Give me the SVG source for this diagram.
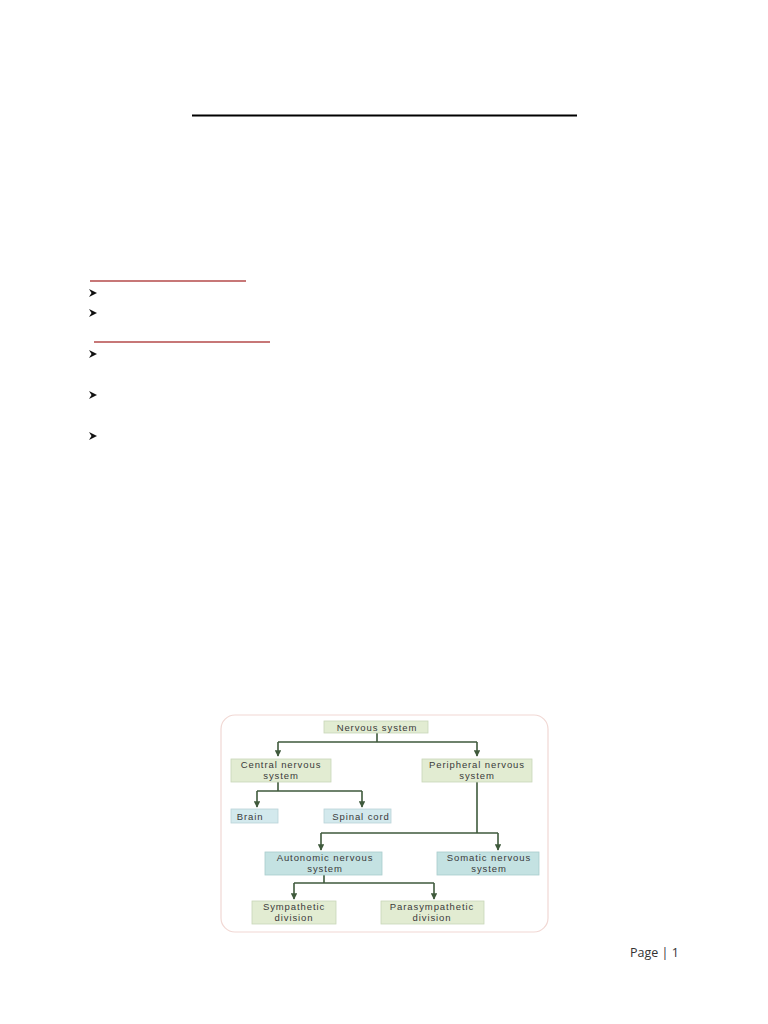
<svg xmlns="http://www.w3.org/2000/svg" width="768" height="1024" viewBox="0 0 768 1024">
<style>
.t{font-family:"Liberation Sans",Arial,sans-serif;font-size:9.5px;letter-spacing:0.9px;fill:#3a3a3a;text-anchor:middle}
.g{fill:#e2ecd2;stroke:#c9d6b8;stroke-width:0.8}
.b{fill:#d3e9ed;stroke:#b9d3d8;stroke-width:0.8}
.c{fill:#c4e2e2;stroke:#a9cccc;stroke-width:0.8}
.ln{fill:none;stroke:#3f5a3c;stroke-width:1.6}
.ul{stroke:#b54a4a;stroke-width:1.5}
</style>
<defs>
<marker id="ah" viewBox="0 0 10 10" refX="9" refY="5" markerWidth="4" markerHeight="4" orient="auto">
<path d="M0,0 L10,5 L0,10 z" fill="#3f5a3c"/>
</marker>
<symbol id="bul" viewBox="0 0 10 10">
<path d="M1,1 L9,5 L1,9 L3.5,5 z" fill="#111"/>
</symbol>
</defs>
<rect width="768" height="1024" fill="#fff"/>
<line x1="192" y1="115.5" x2="577" y2="115.5" stroke="#000" stroke-width="2"/>
<line class="ul" x1="90" y1="281" x2="246" y2="281"/>
<line class="ul" x1="94" y1="342" x2="270" y2="342"/>
<g id="bullets">
<use href="#bul" x="88" y="288" width="10" height="10"/>
<use href="#bul" x="88" y="308" width="10" height="10"/>
<use href="#bul" x="88" y="349" width="10" height="10"/>
<use href="#bul" x="88" y="390" width="10" height="10"/>
<use href="#bul" x="88" y="431" width="10" height="10"/>
</g>
<rect id="frame" x="221" y="715" width="327" height="217" rx="14" fill="#fff" stroke="#f1d8d4" stroke-width="1.2"/>
<g id="connectors">
<path class="ln" d="M377,733 V742 M278,742 H477"/>
<path class="ln" d="M278,742 V756" marker-end="url(#ah)"/>
<path class="ln" d="M477,742 V756" marker-end="url(#ah)"/>
<path class="ln" d="M278,782 V791 M257,791 H362"/>
<path class="ln" d="M257,791 V807" marker-end="url(#ah)"/>
<path class="ln" d="M362,791 V807" marker-end="url(#ah)"/>
<path class="ln" d="M477,782 V833 M321,833 H498"/>
<path class="ln" d="M321,833 V850" marker-end="url(#ah)"/>
<path class="ln" d="M498,833 V850" marker-end="url(#ah)"/>
<path class="ln" d="M324,875 V883 M294,883 H434"/>
<path class="ln" d="M294,883 V899" marker-end="url(#ah)"/>
<path class="ln" d="M434,883 V899" marker-end="url(#ah)"/>
</g>
<g id="nervous"><rect class="g" x="324" y="721" width="104" height="12"/><text class="t" x="377" y="730.5">Nervous system</text></g>
<g id="cns"><rect class="g" x="231" y="759" width="100" height="23"/><text class="t" x="281" y="768">Central nervous</text><text class="t" x="281" y="778.5">system</text></g>
<g id="pns"><rect class="g" x="422" y="759" width="110" height="23"/><text class="t" x="477" y="768">Peripheral nervous</text><text class="t" x="477" y="778.5">system</text></g>
<g id="brain"><rect class="b" x="231" y="809" width="47" height="14"/><text class="t" x="250" y="819.5">Brain</text></g>
<g id="spinal"><rect class="b" x="324" y="809" width="67" height="14"/><text class="t" x="361" y="819.5">Spinal cord</text></g>
<g id="autonomic"><rect class="c" x="265" y="852" width="117" height="23"/><text class="t" x="325" y="861">Autonomic nervous</text><text class="t" x="325" y="871.5">system</text></g>
<g id="somatic"><rect class="c" x="437" y="852" width="102" height="23"/><text class="t" x="489" y="861">Somatic nervous</text><text class="t" x="489" y="871.5">system</text></g>
<g id="sympathetic"><rect class="g" x="252" y="901" width="84" height="23"/><text class="t" x="294" y="910">Sympathetic</text><text class="t" x="294" y="920.5">division</text></g>
<g id="parasympathetic"><rect class="g" x="381" y="901" width="103" height="23"/><text class="t" x="432" y="910">Parasympathetic</text><text class="t" x="432" y="920.5">division</text></g>
<text x="630" y="957" font-family="'Open Sans','Liberation Sans',sans-serif" font-size="12.5" fill="#333">Page | 1</text>
</svg>
